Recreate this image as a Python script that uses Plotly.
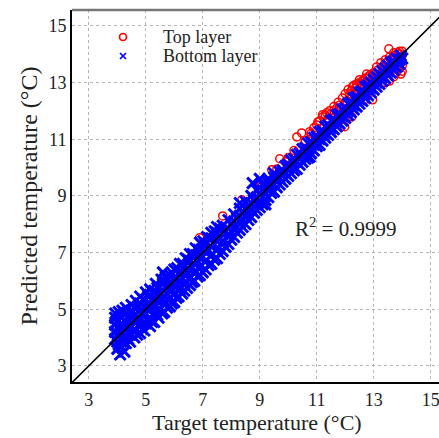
import plotly.graph_objects as go

# ---- data ----
top_layer = [
    (6.89, 7.52), (7.70, 8.29), (8.37, 8.86), (8.65, 8.40), (9.0, 9.3), (9.2, 9.55),
    (9.42, 9.92), (9.6, 9.95), (9.7, 10.31), (9.9, 10.2), (10.0, 10.35), (10.2, 10.6),
    (10.3, 11.08), (10.47, 11.22), (10.6, 10.95), (10.68, 10.38), (10.75, 11.26),
    (10.8, 11.2), (11.0, 11.5), (11.04, 11.61), (11.2, 11.86), (11.21, 11.79),
    (11.35, 11.93), (11.4, 11.75), (11.5, 11.9), (11.6, 12.0), (11.7, 12.1),
    (11.98, 11.44), (12.23, 11.79), (12.68, 12.39), (12.96, 12.39), (13.53, 14.19),
    (11.8, 12.2), (11.9, 12.45), (12.0, 12.6), (12.05, 12.35), (12.1, 12.75),
    (12.2, 12.5), (12.25, 12.85), (12.3, 12.65), (12.4, 12.95), (12.45, 12.7),
    (12.5, 13.0), (12.6, 12.85), (12.7, 13.15), (12.75, 12.95), (12.85, 13.25),
    (12.9, 13.05), (13.0, 13.35), (13.05, 13.15), (13.15, 13.45), (13.2, 13.3),
    (13.3, 13.55), (13.35, 13.4), (13.45, 13.7), (13.5, 13.5), (13.6, 13.8),
    (13.65, 13.65), (13.75, 13.9), (13.8, 13.75), (13.9, 14.0), (13.95, 13.85),
    (14.0, 13.95), (13.9, 14.1), (13.7, 14.05), (13.4, 13.0), (13.55, 13.05),
    (13.7, 13.2), (13.8, 13.35), (13.9, 13.5), (13.95, 13.3), (13.85, 13.6),
    (12.15, 12.6), (12.35, 12.8), (12.55, 12.95), (12.65, 13.1), (12.8, 13.2),
    (12.95, 13.3), (12.2, 12.7), (12.4, 12.85), (12.6, 13.05), (12.3, 12.9),
    (12.5, 13.1), (12.75, 13.3), (13.1, 13.55), (13.25, 13.7), (13.4, 13.8),
    (13.55, 13.9), (13.7, 13.95), (13.85, 14.05), (14.0, 14.1), (14.0, 13.6),
    (13.95, 13.7), (14.0, 13.4), (11.6, 12.15), (11.75, 12.3), (11.45, 12.0),
    (11.3, 11.85), (11.1, 11.65), (10.9, 11.4),
]

bottom_layer = [
    (3.92, 3.95), (3.92, 4.2), (3.92, 4.45), (3.92, 4.7), (3.93, 4.85),
    (4.0, 3.6), (4.0, 3.85), (4.02, 4.1), (4.0, 4.35), (4.03, 4.6), (4.05, 4.9),
    (4.1, 3.4), (4.12, 3.7), (4.15, 3.95), (4.1, 4.25), (4.15, 4.5), (4.12, 4.75), (4.18, 4.95),
    (4.25, 3.5), (4.3, 3.8), (4.28, 4.05), (4.3, 4.35), (4.25, 4.6), (4.3, 4.85), (4.3, 5.05),
    (4.45, 3.85), (4.45, 4.1), (4.5, 4.4), (4.45, 4.65), (4.5, 4.9), (4.5, 5.15),
    (4.6, 4.0), (4.65, 4.25), (4.6, 4.55), (4.65, 4.8), (4.6, 5.05), (4.65, 5.3),
    (4.8, 4.15), (4.8, 4.4), (4.75, 4.7), (4.8, 4.95), (4.8, 5.2), (4.8, 5.45),
    (4.95, 4.25), (5.0, 4.5), (4.95, 4.8), (5.0, 5.05), (4.95, 5.3), (5.0, 5.6),
    (5.15, 4.4), (5.15, 4.7), (5.1, 4.95), (5.15, 5.2), (5.15, 5.5), (5.15, 5.7),
    (5.3, 4.55), (5.3, 4.85), (5.3, 5.1), (5.3, 5.35), (5.3, 5.65), (5.35, 5.9),
    (5.45, 4.7), (5.5, 5.0), (5.45, 5.25), (5.5, 5.55), (5.45, 5.8), (5.6, 6.3), (5.55, 6.05),
    (5.65, 4.9), (5.65, 5.2), (5.65, 5.45), (5.7, 5.75), (5.65, 6.0), (5.7, 6.15),
    (5.85, 5.1), (5.8, 5.35), (5.85, 5.65), (5.85, 5.9), (5.85, 6.2),
    (6.0, 5.25), (6.0, 5.55), (6.0, 5.8), (6.05, 6.1), (6.0, 6.4),
    (6.15, 5.45), (6.2, 5.7), (6.15, 6.0), (6.2, 6.3), (6.2, 6.6),
    (6.35, 5.65), (6.35, 5.9), (6.4, 6.2), (6.35, 6.5), (6.4, 6.8),
    (6.55, 5.85), (6.55, 6.1), (6.5, 6.4), (6.55, 6.7), (6.55, 6.95),
    (6.7, 6.0), (6.75, 6.3), (6.7, 6.6), (6.75, 6.9), (6.75, 7.15),
    (6.9, 6.2), (6.9, 6.5), (6.9, 6.8), (6.95, 7.1), (6.9, 7.35),
    (7.1, 6.4), (7.1, 6.7), (7.1, 7.0), (7.1, 7.3), (7.15, 7.55),
    (7.3, 6.6), (7.3, 6.9), (7.3, 7.2), (7.3, 7.5), (7.3, 7.7),
    (7.5, 6.8), (7.5, 7.1), (7.5, 7.4), (7.5, 7.7), (7.5, 7.9),
    (7.7, 7.05), (7.7, 7.35), (7.7, 7.65), (7.7, 7.95),
    (7.9, 7.3), (7.9, 7.6), (7.9, 7.85), (7.9, 8.15),
    (8.1, 7.55), (8.1, 7.85), (8.1, 8.1), (8.1, 8.35),
    (8.3, 7.8), (8.3, 8.05), (8.3, 8.3), (8.3, 8.75), (8.3, 8.55),
    (8.5, 8.0), (8.5, 8.3), (8.5, 8.55), (8.5, 8.8),
    (8.7, 8.25), (8.7, 8.5), (8.7, 8.75), (8.75, 9.45), (8.7, 9.0),
    (8.9, 8.5), (8.9, 8.7), (8.9, 8.95), (9.0, 9.6), (8.9, 9.2),
    (9.1, 8.7), (9.2, 8.7), (9.1, 8.95), (9.1, 9.2), (9.1, 9.4),
    (9.3, 8.95), (9.3, 9.2), (9.3, 9.45), (9.3, 9.6),
    (9.5, 9.15), (9.5, 9.4), (9.5, 9.65), (9.5, 9.8),
    (9.7, 9.4), (9.7, 9.6), (9.7, 9.85),
    (9.9, 9.6), (9.9, 9.8), (9.9, 10.05),
    (10.1, 9.8), (10.1, 10.0), (10.1, 10.25),
    (10.3, 9.95), (10.3, 10.2), (10.3, 10.45),
    (10.5, 10.2), (10.5, 10.4), (10.5, 10.65),
    (10.7, 10.35), (10.7, 10.6), (10.7, 10.85), (10.75, 10.38),
    (10.9, 10.6), (10.9, 10.8), (10.9, 11.05),
    (11.1, 10.8), (11.1, 11.0), (11.1, 11.25),
    (11.3, 11.05), (11.3, 11.2), (11.3, 11.45),
    (11.5, 11.25), (11.5, 11.4), (11.5, 11.65),
    (11.7, 11.45), (11.7, 11.6), (11.7, 11.85),
    (11.9, 11.65), (11.9, 11.8), (11.9, 12.05),
    (12.1, 11.85), (12.1, 12.0), (12.1, 12.25),
    (12.3, 12.05), (12.3, 12.2), (12.3, 12.45),
    (12.5, 12.25), (12.5, 12.4), (12.5, 12.65),
    (12.7, 12.45), (12.7, 12.6), (12.7, 12.85),
    (12.9, 12.65), (12.9, 12.8), (12.9, 13.0),
    (13.1, 12.85), (13.1, 13.0), (13.1, 13.2),
    (13.3, 13.05), (13.3, 13.2), (13.3, 13.4),
    (13.5, 13.25), (13.5, 13.4), (13.5, 13.6),
    (13.7, 13.45), (13.7, 13.6), (13.7, 13.75),
    (13.9, 13.65), (13.9, 13.8), (13.95, 13.95), (14.0, 13.85),
    # denser interior of the band
    (3.98, 4.55), (4.05, 3.75), (4.2, 4.15), (4.22, 4.4), (4.38, 3.95), (4.38, 4.5),
    (4.4, 4.75), (4.55, 4.25), (4.55, 4.75), (4.7, 4.1), (4.72, 4.6), (4.72, 5.1),
    (4.88, 4.3), (4.88, 4.85), (4.9, 5.35), (5.05, 4.6), (5.05, 5.15), (5.08, 5.45),
    (5.22, 4.55), (5.22, 5.05), (5.25, 5.6), (5.4, 4.8), (5.4, 5.3), (5.4, 5.75),
    (5.58, 4.85), (5.58, 5.35), (5.6, 5.9), (5.75, 5.05), (5.75, 5.55), (5.78, 6.05),
    (5.92, 5.2), (5.92, 5.7), (5.95, 6.25), (6.08, 5.4), (6.1, 5.9), (6.1, 6.45),
    (6.28, 5.55), (6.28, 6.1), (6.3, 6.6), (6.45, 5.75), (6.45, 6.3), (6.48, 6.75),
    (6.62, 5.95), (6.62, 6.5), (6.65, 6.95), (6.82, 6.15), (6.82, 6.7), (6.85, 7.1),
    (7.0, 6.3), (7.0, 6.85), (7.02, 7.4), (7.2, 6.55), (7.2, 7.1), (7.22, 7.5),
    (7.4, 6.75), (7.4, 7.3), (7.42, 7.75), (7.6, 6.95), (7.6, 7.5), (7.6, 7.85),
    (7.8, 7.2), (7.8, 7.75), (8.0, 7.45), (8.0, 8.0), (8.2, 7.7), (8.2, 8.2),
    (8.4, 7.9), (8.4, 8.45), (8.6, 8.15), (8.6, 8.65), (8.8, 8.4), (8.8, 8.85),
    (9.0, 8.6), (9.0, 9.05), (9.2, 8.85), (9.2, 9.3), (9.4, 9.1), (9.4, 9.5),
    (9.6, 9.3), (9.6, 9.7), (9.8, 9.5), (9.8, 9.9), (10.0, 9.7), (10.0, 10.1),
    (10.2, 9.9), (10.2, 10.3), (10.4, 10.1), (10.4, 10.5), (10.6, 10.3), (10.6, 10.7),
    (10.8, 10.5), (10.8, 10.9), (11.0, 10.75), (11.0, 11.1), (11.2, 10.95), (11.2, 11.3),
    (11.4, 11.15), (11.4, 11.5), (11.6, 11.35), (11.6, 11.7), (11.8, 11.55), (11.8, 11.9),
    (12.0, 11.75), (12.0, 12.1), (12.2, 11.95), (12.2, 12.3), (12.4, 12.15), (12.4, 12.5),
    (12.6, 12.35), (12.6, 12.7), (12.8, 12.55), (12.8, 12.9), (13.0, 12.75), (13.0, 13.1),
    (13.2, 12.95), (13.2, 13.3), (13.4, 13.15), (13.4, 13.5), (13.6, 13.35), (13.6, 13.7),
    (13.8, 13.55), (13.8, 13.85),
]

series_names = ["Top layer", "Bottom layer"]
tick_values = [3, 5, 7, 9, 11, 13, 15]
identity_line = [2.0, 16.0]
r2_text = "R<sup>2</sup> = 0.9999"
x_title = "Target temperature (°C)"
y_title = "Predicted temperature (°C)"

FONT = "Liberation Serif, Times New Roman, serif"
RED, BLUE = "#ff0000", "#0000ff"
TXT = "#222"

fig = go.Figure()
fig.add_trace(go.Scatter(
    x=[p[0] for p in top_layer], y=[p[1] for p in top_layer],
    mode="markers", name=series_names[0], showlegend=False,
    marker=dict(symbol="circle-open", size=8, color=RED, line=dict(width=1.5)),
))
fig.add_trace(go.Scatter(
    x=[p[0] for p in bottom_layer], y=[p[1] for p in bottom_layer],
    mode="markers", name=series_names[1], showlegend=False,
    marker=dict(symbol="x-thin-open", size=11, color=BLUE, line=dict(width=3.0, color=BLUE)),
))
fig.add_trace(go.Scatter(
    x=identity_line, y=identity_line, mode="lines", showlegend=False,
    line=dict(color="black", width=1.6),
))

# ---- legend drawn in a pixel-like overlay frame (x2: 72..439, y2: 382..10) ----
legend_px_x = [123, 123]
legend_px_y = [37, 56]
fig.add_trace(go.Scatter(
    x=legend_px_x[:1], y=legend_px_y[:1], xaxis="x2", yaxis="y2", mode="markers",
    showlegend=False, hoverinfo="skip",
    marker=dict(symbol="circle-open", size=7, color=RED, line=dict(width=1.7)),
))
fig.add_trace(go.Scatter(
    x=legend_px_x[1:], y=legend_px_y[1:], xaxis="x2", yaxis="y2", mode="markers",
    showlegend=False, hoverinfo="skip",
    marker=dict(symbol="x-thin-open", size=6, color=BLUE, line=dict(width=1.7, color=BLUE)),
))

axis_common = dict(
    tickvals=tick_values, showgrid=True, gridcolor="#b5b5b5", griddash="dot", gridwidth=1,
    showline=True, linecolor="black", linewidth=2, ticks="",
    tickfont=dict(family=FONT, size=18, color=TXT),
    zeroline=False, mirror=False, ticklabeloverflow="allow",
)

annotations = [dict(x=12.0, y=7.87, xref="x", yref="y", text=r2_text, showarrow=False,
                    font=dict(family=FONT, size=21, color=TXT)),
               dict(x=(257 - 72) / 367, y=(382 - 423) / 372, xref="paper", yref="paper",
                    text=x_title, showarrow=False, xanchor="center", yanchor="middle",
                    font=dict(family=FONT, size=22, color=TXT))]
for name, py in zip(series_names, legend_px_y):
    annotations.append(dict(x=161, y=py, xref="x2", yref="y2", text=name, showarrow=False,
                            xanchor="left", yanchor="middle",
                            font=dict(family=FONT, size=18, color=TXT)))

fig.update_layout(
    width=439, height=438,
    margin=dict(l=72, r=0, t=10, b=56),
    paper_bgcolor="white", plot_bgcolor="white",
    font=dict(family=FONT, color=TXT),
    showlegend=False,
    xaxis=dict(range=[2.41, 15.29], **axis_common),
    yaxis=dict(range=[2.43, 15.56], title=dict(text=y_title,
               font=dict(family=FONT, size=24), standoff=4), **axis_common),
    xaxis2=dict(range=[72, 439], overlaying="x", visible=False, fixedrange=True),
    yaxis2=dict(range=[382, 10], overlaying="y", visible=False, fixedrange=True),
    annotations=annotations,
    shapes=[dict(type="line", xref="paper", yref="paper", x0=0, x1=1, y0=1, y1=1,
                 line=dict(color="#777", width=2.5))],
)

fig.write_html("out.html")
